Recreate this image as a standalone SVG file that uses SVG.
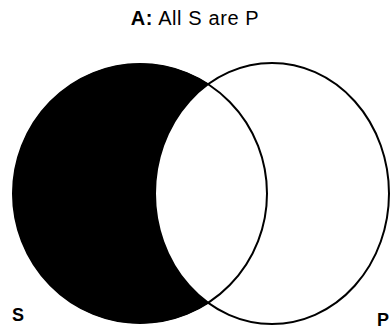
<svg xmlns="http://www.w3.org/2000/svg" width="391" height="332" viewBox="0 0 391 332">
  <style>
    .outline { fill: none; stroke: #000; stroke-width: 2; }
    .shade { fill: #000; stroke: #000; stroke-width: 1; }
    .title { font-family: "Liberation Sans", Arial, sans-serif; font-size: 20px; fill: #000; }
    .lbl { font-family: "Liberation Sans", Arial, sans-serif; font-size: 18px; font-weight: bold; fill: #000; }
  </style>
  <rect width="391" height="332" fill="#fff"/>
  <text class="title" x="195" y="25" text-anchor="middle" letter-spacing="0.6"><tspan font-weight="bold">A:</tspan> All S are P</text>
  <g id="shaded-region">
    <path class="shade" d="M208 84 A127 129.5 0 1 0 208 303 A117 130.5 0 0 1 208 84 Z"/>
  </g>
  <g id="circle-S">
    <ellipse class="outline" cx="140" cy="193.5" rx="127" ry="129.5"/>
    <text class="lbl" x="12" y="321">S</text>
  </g>
  <g id="circle-P">
    <ellipse class="outline" cx="272" cy="193.5" rx="117" ry="130.5"/>
    <text class="lbl" x="377" y="326">P</text>
  </g>
</svg>
